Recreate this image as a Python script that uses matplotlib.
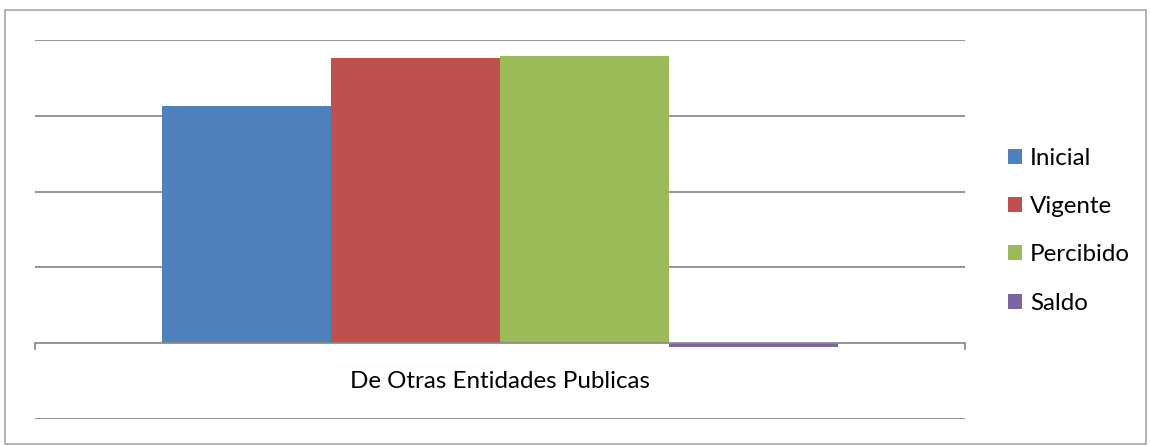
import matplotlib.pyplot as plt
from matplotlib.patches import Rectangle
import numpy as np

# datos
categoria = ['De Otras Entidades Publicas']
series = ['Inicial', 'Vigente', 'Percibido', 'Saldo']
valores = [3.13, 3.76, 3.79, -0.045]
colores = ['#4F81BD', '#C0504D', '#9BBB59', '#8064A2']

plt.rcParams['font.family'] = ['Lato', 'DejaVu Sans']

fig = plt.figure(figsize=(11.5, 4.46), dpi=100)

# marco exterior
fig.patches.append(Rectangle((5 / 1150, 2 / 446), 1141 / 1150, 434 / 446,
                             transform=fig.transFigure, fill=False,
                             edgecolor='#a6a6a6', linewidth=1.2))

ax = fig.add_axes([35 / 1150, 27 / 446, 930 / 1150, 379 / 446])

ancho = 0.1817
x = np.arange(len(categoria))
for i, (nombre, v, c) in enumerate(zip(series, valores, colores)):
    offset = (i - 1.5) * ancho
    ax.bar(x + offset, [v], width=ancho, color=c, label=nombre, zorder=3)

ax.set_xlim(-0.5, 0.5)
ax.set_ylim(-1, 4)

# lineas de cuadricula
for yv in [-1, 1, 2, 3, 4]:
    ax.axhline(yv, color='#8c8c8c', linewidth=1.3, zorder=1)
ax.axhline(0, color='#8c8c8c', linewidth=1.3, zorder=4)
# marcas en los extremos del eje
for xv in [-0.5, 0.5]:
    ax.plot([xv, xv], [0, -0.08], color='#8c8c8c', linewidth=1.3, zorder=4,
            clip_on=False)

for s in ax.spines.values():
    s.set_visible(False)
ax.set_xticks([])
ax.set_yticks([])
ax.text(0, -0.5, categoria[0], ha='center', va='center', fontsize=17.4)

leg = fig.legend(loc='upper left', bbox_to_anchor=(986 / 1150, 320 / 446),
                 frameon=False, fontsize=17.4, handlelength=0.58,
                 handleheight=0.58, handletextpad=0.33, labelspacing=1.13)

fig.savefig('out.png', dpi=100)
